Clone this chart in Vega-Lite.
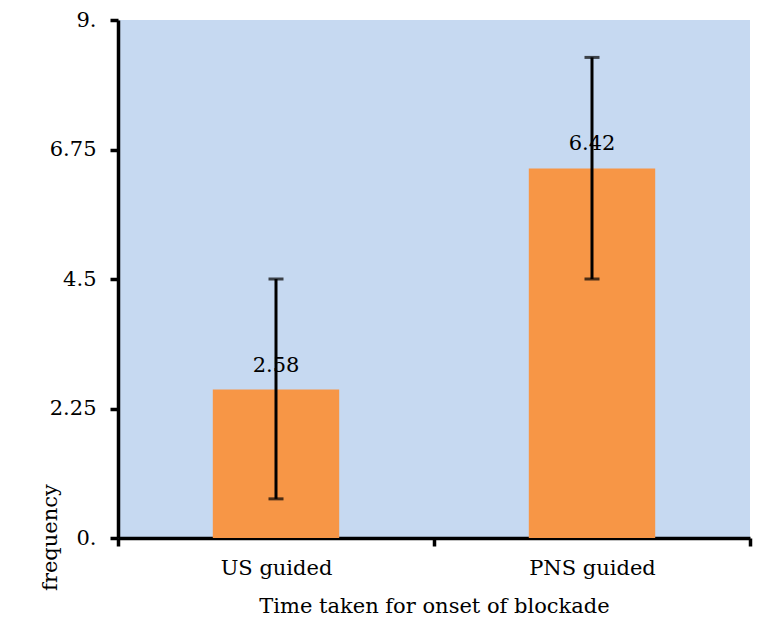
{
  "$schema": "https://vega.github.io/schema/vega-lite/v6.json",
  "autosize": "none",
  "width": 632,
  "height": 518,
  "padding": {"left": 118, "top": 20, "right": 17, "bottom": 94},
  "background": "white",
  "data": {
    "values": [
      {"group": "US guided", "mean": 2.58, "lo": 0.68, "hi": 4.5},
      {"group": "PNS guided", "mean": 6.42, "lo": 4.5, "hi": 8.35}
    ]
  },
  "encoding": {
    "x": {
      "field": "group",
      "type": "nominal",
      "sort": null,
      "scale": {"paddingInner": 0, "paddingOuter": 0},
      "axis": {
        "title": "Time taken for onset of blockade",
        "labelAngle": 0,
        "tickBand": "extent",
        "labelPadding": 11,
        "titlePadding": 17
      }
    }
  },
  "layer": [
    {
      "mark": {"type": "bar", "color": "#F79646", "width": {"band": 0.4}},
      "encoding": {
        "y": {
          "field": "mean",
          "type": "quantitative",
          "scale": {"domain": [0, 9]},
          "axis": {
            "title": "frequency",
            "values": [0, 2.25, 4.5, 6.75, 9],
            "labelExpr": "datum.value == 0 ? '0.' : datum.value == 9 ? '9.' : format(datum.value, '.3~f')",
            "grid": false,
            "labelPadding": 14,
            "titleX": -68,
            "titleY": 517,
            "titleAlign": "center",
            "titleBaseline": "middle"
          }
        }
      }
    },
    {
      "mark": {"type": "rule", "color": "black", "strokeWidth": 3},
      "encoding": {
        "y": {"field": "lo", "type": "quantitative"},
        "y2": {"field": "hi"}
      }
    },
    {
      "mark": {"type": "tick", "color": "black", "thickness": 3, "size": 15},
      "encoding": {"y": {"field": "lo", "type": "quantitative"}}
    },
    {
      "mark": {"type": "tick", "color": "black", "thickness": 3, "size": 15},
      "encoding": {"y": {"field": "hi", "type": "quantitative"}}
    },
    {
      "mark": {"type": "text", "baseline": "bottom", "dy": -14, "font": "DejaVu Serif", "fontSize": 21, "color": "black"},
      "encoding": {
        "y": {"field": "mean", "type": "quantitative"},
        "text": {"field": "mean", "type": "quantitative", "format": ".2f"}
      }
    }
  ],
  "config": {
    "view": {"fill": "#C6D9F1", "stroke": null},
    "font": "DejaVu Serif",
    "axis": {
      "domainColor": "black",
      "domainWidth": 3.5,
      "tickColor": "black",
      "tickWidth": 3.5,
      "tickSize": 8,
      "labelFont": "DejaVu Serif",
      "labelFontSize": 21,
      "labelColor": "black",
      "titleFont": "DejaVu Serif",
      "titleFontSize": 21,
      "titleFontWeight": "normal",
      "titleColor": "black"
    }
  }
}
